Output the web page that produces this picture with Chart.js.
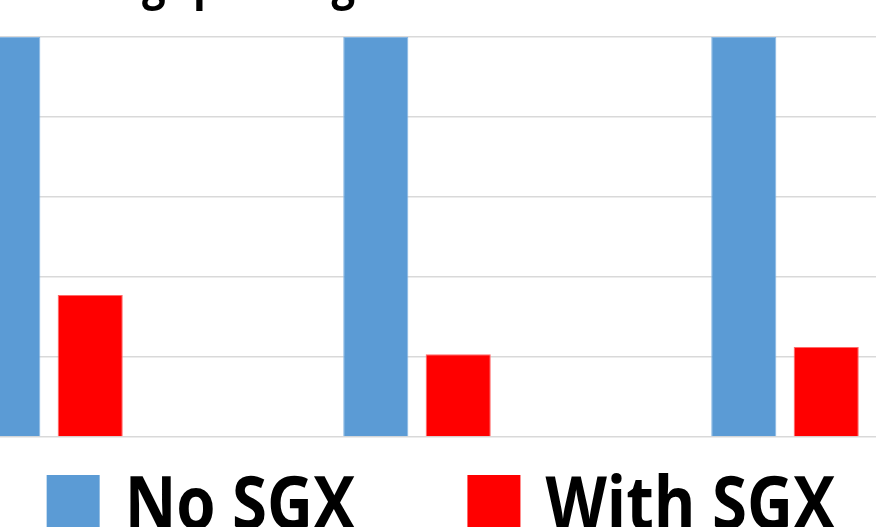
<!DOCTYPE html>
<html>
<head>
<meta charset="utf-8">
<script src="https://cdn.jsdelivr.net/npm/chart.js@4.4.0/dist/chart.umd.min.js"></script>
<style>
    html, body { margin: 0; padding: 0; background: #fff; overflow: hidden; width: 876px; height: 527px; }
    #wrap { position: absolute; left: -135px; top: -60px; width: 1152px; height: 640px; }
</style>
</head>
<body>
<div id="wrap"><canvas id="chart"></canvas></div>
<script>
const titleText = "Throughput Degradation";
const categories = ["Workload 1", "Workload 2", "Workload 3"];
const noSgx = [1.0, 1.0, 1.0];
const withSgx = [0.355, 0.207, 0.225];
const yTicks = [0, 0.2, 0.4, 0.6, 0.8, 1.0];

const FONT = '"Open Sans", sans-serif';
const SQUEEZE = 0.87; // the original face is narrower than anything installed

// title and legend are drawn by hand: they sit partly outside the visible window
const bigText = {
    id: "bigText",
    afterDraw(chart) {
        const ctx = chart.ctx;
        ctx.save();
        ctx.fillStyle = "#000";
        ctx.textBaseline = "alphabetic";

        // title, mostly cut off above the window
        ctx.font = "bold 48px " + FONT;
        const lead = ctx.measureText("Throu").width * SQUEEZE;
        ctx.save();
        ctx.translate(135 + 142 - lead, 59);
        ctx.scale(SQUEEZE, 1);
        ctx.fillText(titleText, 0, 0);
        ctx.restore();

        // legend
        ctx.font = "bold 73px " + FONT;
        const box = 53, gap = 25, itemGap = 112;
        const items = chart.data.datasets.map(ds => ({
            text: ds.label, color: ds.backgroundColor, w: ctx.measureText(ds.label).width * SQUEEZE
        }));
        let total = 0;
        items.forEach((it, i) => { total += box + gap + it.w + (i ? itemGap : 0); });
        let x = 135 + 441 - total / 2;
        items.forEach(it => {
            ctx.fillStyle = it.color;
            ctx.fillRect(x, 535, box, 60);
            ctx.fillStyle = "#000";
            ctx.save();
            ctx.translate(x + box + gap, 589);
            ctx.scale(SQUEEZE, 1);
            ctx.fillText(it.text, 0, 0);
            ctx.restore();
            x += box + gap + it.w + itemGap;
        });
        ctx.restore();
    }
};

new Chart(document.getElementById("chart"), {
    type: "bar",
    data: {
        labels: categories,
        datasets: [
            {
                label: "No SGX",
                data: noSgx,
                backgroundColor: "#5b9bd5",
                borderColor: "#86b6e3",
                borderWidth: 1
            },
            {
                label: "With SGX",
                data: withSgx,
                backgroundColor: "#ff0000",
                borderColor: "#ff6a6a",
                borderWidth: 1
            }
        ]
    },
    options: {
        responsive: true,
        maintainAspectRatio: false,
        animation: false,
        layout: { padding: { top: 97, right: 48, bottom: 143, left: 0 } },
        categoryPercentage: 0.448,
        barPercentage: 0.79,
        plugins: {
            legend: { display: false },
            title: { display: false },
            tooltip: { enabled: false }
        },
        scales: {
            x: {
                grid: { display: false, drawTicks: false },
                ticks: { display: false },
                border: { display: false }
            },
            y: {
                min: 0,
                max: 1,
                afterBuildTicks: axis => { axis.ticks = yTicks.map(v => ({ value: v })); },
                grid: { color: "#d9d9d9", lineWidth: 1.5, drawTicks: false },
                ticks: { display: false },
                border: { display: false }
            }
        }
    },
    plugins: [bigText]
});
</script>
</body>
</html>
